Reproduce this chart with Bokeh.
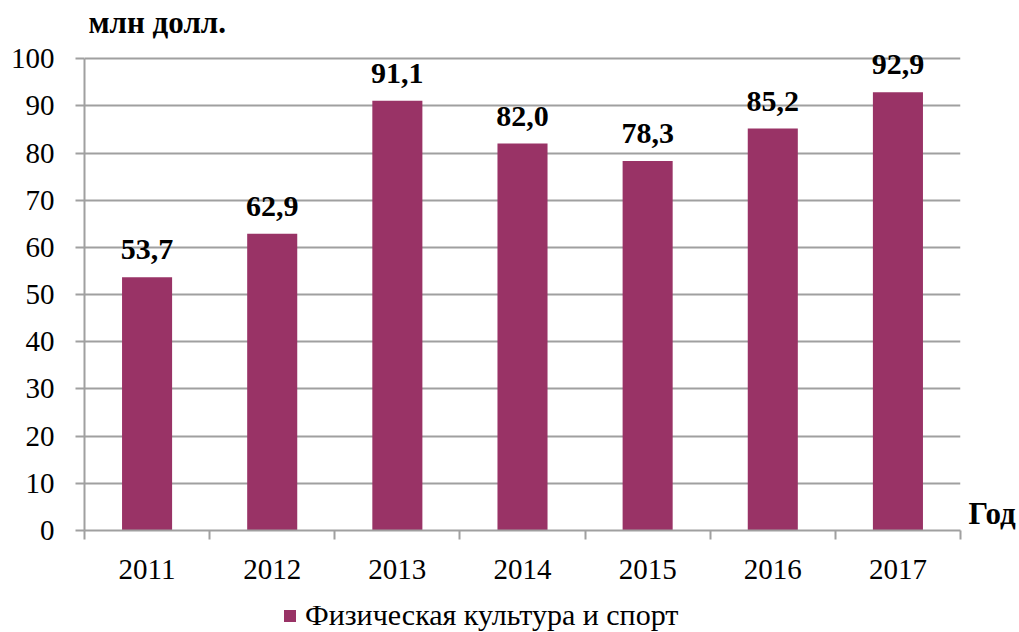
from bokeh.plotting import figure
from bokeh.layouts import column
from bokeh.models import (Range1d, FixedTicker, ColumnDataSource, Label, Legend, LegendItem, LabelSet)
from bokeh.embed import file_html
from bokeh.resources import INLINE

years = ["2011", "2012", "2013", "2014", "2015", "2016", "2017"]
values = [53.7, 62.9, 91.1, 82.0, 78.3, 85.2, 92.9]
series_name = "Физическая культура и спорт"
y_title = "млн долл."
x_title = "Год"

FONT = "Liberation Serif"
BAR = "#993366"
GRID = "#a0a0a0"

xs = [i + 0.5 for i in range(len(years))]
src = ColumnDataSource(dict(x=xs, top=values,
                            lab=[f"{v:.1f}".replace(".", ",") for v in values]))

# y range extends above 100 so the top value labels are not clipped; axis stops at 100
p = figure(width=1019, height=592, output_backend="svg", toolbar_location=None,
           x_range=Range1d(0, len(years)), y_range=Range1d(0, 110),
           min_border_left=84, min_border_right=59, min_border_top=11, min_border_bottom=62)
p.outline_line_color = None
p.background_fill_color = "white"

r = p.vbar(x="x", top="top", width=0.4, source=src, fill_color=BAR, line_color=None)

ya = p.yaxis[0]
ya.ticker = FixedTicker(ticks=list(range(0, 101, 10)))
ya.bounds = (0, 100)
ya.major_label_text_font = FONT
ya.major_label_text_font_size = "29px"
ya.major_label_text_color = "black"
ya.axis_line_color = GRID
ya.axis_line_width = 2
ya.major_tick_line_color = GRID
ya.major_tick_line_width = 2
ya.major_tick_out = 9
ya.major_tick_in = 0
ya.minor_tick_line_color = None
ya.major_label_standoff = 21

xa = p.xaxis[0]
xa.ticker = FixedTicker(ticks=xs, minor_ticks=list(range(len(years) + 1)))
xa.major_label_overrides = {x: y for x, y in zip(xs, years)}
xa.major_label_text_font = FONT
xa.major_label_text_font_size = "29px"
xa.major_label_text_color = "black"
xa.axis_line_color = GRID
xa.axis_line_width = 2
xa.major_tick_line_color = None
xa.major_tick_out = 0
xa.minor_tick_line_color = GRID
xa.minor_tick_line_width = 2
xa.minor_tick_out = 9
xa.minor_tick_in = 0
xa.major_label_standoff = 20

p.xgrid.grid_line_color = None
p.ygrid.ticker = FixedTicker(ticks=list(range(10, 101, 10)))
p.ygrid.grid_line_color = GRID
p.ygrid.grid_line_width = 2

labels = LabelSet(x="x", y="top", text="lab", source=src, text_align="center",
                  text_baseline="bottom", y_offset=18, text_font=FONT,
                  text_font_size="30px", text_font_style="bold", text_color="black")
p.add_layout(labels)

p.add_layout(Label(x=0.032, y=107.6, text=y_title,
                   text_font=FONT, text_font_size="31px", text_font_style="bold",
                   text_baseline="middle", text_align="left", text_color="black"))

p.add_layout(Label(x=8, y=17, x_units="screen", y_units="screen", text=x_title,
                   text_font=FONT, text_font_size="31px", text_font_style="bold",
                   text_baseline="middle", text_align="left", text_color="black"), "right")

# legend strip below the chart
p2 = figure(width=1019, height=40, output_backend="svg", toolbar_location=None,
            x_range=Range1d(0, 1), y_range=Range1d(0, 1),
            min_border_left=0, min_border_right=0, min_border_top=0, min_border_bottom=0)
p2.axis.visible = False
p2.grid.visible = False
p2.outline_line_color = None
r2 = p2.vbar(x="x", top="top", width=0.4, source=src, fill_color=BAR, line_color=None,
             visible=False)
legend = Legend(items=[LegendItem(label=series_name, renderers=[r2])],
                location=(198, 0), label_text_font=FONT, label_text_font_size="30px",
                label_text_color="black", glyph_width=15, glyph_height=15,
                border_line_color=None, background_fill_alpha=0, padding=0, spacing=0,
                label_standoff=8, margin=0)
p2.add_layout(legend, "center")

layout = column(p, p2, spacing=0)
open("out.html", "w").write(file_html(layout, INLINE))
